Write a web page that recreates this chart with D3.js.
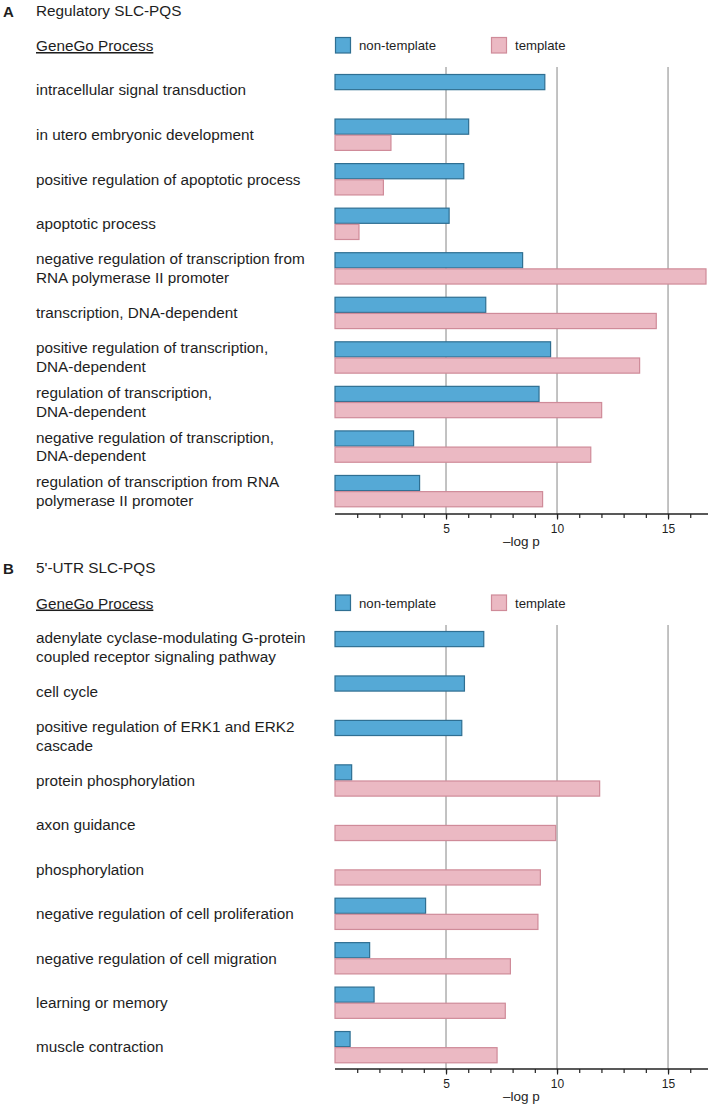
<!DOCTYPE html>
<html><head><meta charset="utf-8">
<script src="https://cdn.jsdelivr.net/npm/d3@7"></script>
<style>body{margin:0;background:#fff;} svg{display:block;font-family:"Liberation Sans",Arial,sans-serif;}</style>
</head><body>
<svg id="c" width="709" height="1104"></svg>
<script>
const seriesNames = ["non-template", "template"];
const panelALetter = "A", panelATitle = "Regulatory SLC-PQS";
const panelACategories = [
  ["intracellular signal transduction"],
  ["in utero embryonic development"],
  ["positive regulation of apoptotic process"],
  ["apoptotic process"],
  ["negative regulation of transcription from", "RNA polymerase II promoter"],
  ["transcription, DNA-dependent"],
  ["positive regulation of transcription,", "DNA-dependent"],
  ["regulation of transcription,", "DNA-dependent"],
  ["negative regulation of transcription,", "DNA-dependent"],
  ["regulation of transcription from RNA", "polymerase II promoter"]
];
const panelANonTemplate = [9.45, 6.02, 5.80, 5.14, 8.45, 6.79, 9.71, 9.19, 3.54, 3.81];
const panelATemplate = [0, 2.52, 2.18, 1.08, 16.71, 14.47, 13.72, 12.01, 11.52, 9.35];

const panelBLetter = "B", panelBTitle = "5'-UTR SLC-PQS";
const panelBCategories = [
  ["adenylate cyclase-modulating G-protein", "coupled receptor signaling pathway"],
  ["cell cycle"],
  ["positive regulation of ERK1 and ERK2", "cascade"],
  ["protein phosphorylation"],
  ["axon guidance"],
  ["phosphorylation"],
  ["negative regulation of cell proliferation"],
  ["negative regulation of cell migration"],
  ["learning or memory"],
  ["muscle contraction"]
];
const panelBNonTemplate = [6.70, 5.83, 5.71, 0.75, 0, 0, 4.08, 1.56, 1.76, 0.68];
const panelBTemplate = [0, 0, 0, 11.92, 9.94, 9.25, 9.14, 7.90, 7.67, 7.30];

const xDomainMax = 16.8;
const majorTicks = [5, 10, 15];
const minorTicks = d3.range(1, 17);
const axisTitle = "\u2013log p";
const headerText = "GeneGo Process";

const colors = {"non-template": {fill: "#55a9d6", stroke: "#2f6f92"},
                "template": {fill: "#ebb9c3", stroke: "#cf8b99"}};

const svg = d3.select("#c");
const x = d3.scaleLinear().domain([0, xDomainMax]).range([335, 708]);
const txt = "#1e1e1e";
const labelX = 36;
const fs = 15.3;

function panel(opts) {
  const g = svg.append("g");
  g.append("text").attr("x", 3).attr("y", opts.titleY + 1).attr("font-size", 15).attr("font-weight", "bold")
    .attr("fill", txt).text(opts.letter);
  g.append("text").attr("x", labelX).attr("y", opts.titleY).attr("font-size", fs).attr("fill", txt).text(opts.title);
  g.append("text").attr("x", labelX).attr("y", opts.headerY).attr("font-size", fs).attr("fill", txt)
    .attr("text-decoration", "underline").text(headerText);
  // legend
  const legX = [335, 491];
  seriesNames.forEach((s, i) => {
    g.append("rect").attr("x", legX[i] + 0.5).attr("y", opts.headerY - 13.5).attr("width", 15).attr("height", 15.5)
      .attr("fill", colors[s].fill).attr("stroke", colors[s].stroke).attr("stroke-width", 1.2);
    g.append("text").attr("x", legX[i] + 24).attr("y", opts.headerY - 1).attr("font-size", 13.2).attr("fill", txt).text(s);
  });
  const cats = opts.categories.map((d, i) => i);
  const y = d3.scaleBand().domain(cats).range([opts.top, opts.bottom]).paddingInner(0.274).paddingOuter(0);
  const ys = d3.scaleBand().domain(seriesNames).range([0, y.bandwidth()]);
  // gridlines
  g.selectAll("line.grid").data(majorTicks).join("line")
    .attr("x1", d => x(d)).attr("x2", d => x(d)).attr("y1", opts.gridTop).attr("y2", opts.axisY)
    .attr("stroke", "#9a9a9a").attr("stroke-width", 1.2);
  // bars
  const data = [];
  cats.forEach(i => {
    data.push({i, s: "non-template", v: opts.nonTemplate[i]});
    data.push({i, s: "template", v: opts.template[i]});
  });
  g.selectAll("rect.bar").data(data.filter(d => d.v > 0)).join("rect")
    .attr("x", x(0)).attr("y", d => y(d.i) + ys(d.s) + 0.5)
    .attr("width", d => x(d.v) - x(0)).attr("height", ys.bandwidth() - 1)
    .attr("fill", d => colors[d.s].fill).attr("stroke", d => colors[d.s].stroke).attr("stroke-width", 1.2);
  // labels
  const lab = g.selectAll("text.lab").data(opts.categories).join("text")
    .attr("font-size", fs).attr("fill", txt).attr("x", labelX);
  lab.each(function(lines, i) {
    const cy = y(i) + y.bandwidth() / 2;
    const t = d3.select(this);
    const lh = 18.7;
    const start = cy - (lines.length - 1) * lh / 2 + 5.3;
    lines.forEach((l, k) => t.append("tspan").attr("x", labelX).attr("y", start + k * lh).text(l));
  });
  // axis
  const ax = g.append("g").attr("transform", `translate(0,${opts.axisY})`);
  ax.call(d3.axisBottom(x).tickValues(minorTicks).tickSize(4).tickFormat(""));
  ax.select(".domain").attr("d", `M${x(0)},0H${x(xDomainMax)}`).attr("stroke", "#222").attr("stroke-width", 1.6);
  ax.selectAll(".tick line").attr("stroke", "#222").attr("stroke-width", 1.2);
  const ax2 = g.append("g").attr("transform", `translate(0,${opts.axisY})`);
  ax2.call(d3.axisBottom(x).tickValues(majorTicks).tickSize(5.5).tickPadding(7));
  ax2.select(".domain").remove();
  ax2.selectAll(".tick line").attr("stroke", "#222").attr("stroke-width", 1.2);
  ax2.selectAll(".tick text").attr("font-size", 12).attr("fill", txt)
    .attr("font-family", "Liberation Sans, Arial, sans-serif").attr("dy", null).attr("y", 19);
  g.append("text").attr("x", (x(0) + x(xDomainMax)) / 2).attr("y", opts.axisY + 32).attr("text-anchor", "middle")
    .attr("font-size", 13.5).attr("fill", txt).text(axisTitle);
}

panel({letter: panelALetter, title: panelATitle, categories: panelACategories,
  nonTemplate: panelANonTemplate, template: panelATemplate,
  titleY: 16, headerY: 51, top: 74, bottom: 507.3, gridTop: 67, axisY: 514});
panel({letter: panelBLetter, title: panelBTitle, categories: panelBCategories,
  nonTemplate: panelBNonTemplate, template: panelBTemplate,
  titleY: 572.5, headerY: 608.5, top: 631, bottom: 1063.3, gridTop: 625, axisY: 1069});
</script>
</body></html>
